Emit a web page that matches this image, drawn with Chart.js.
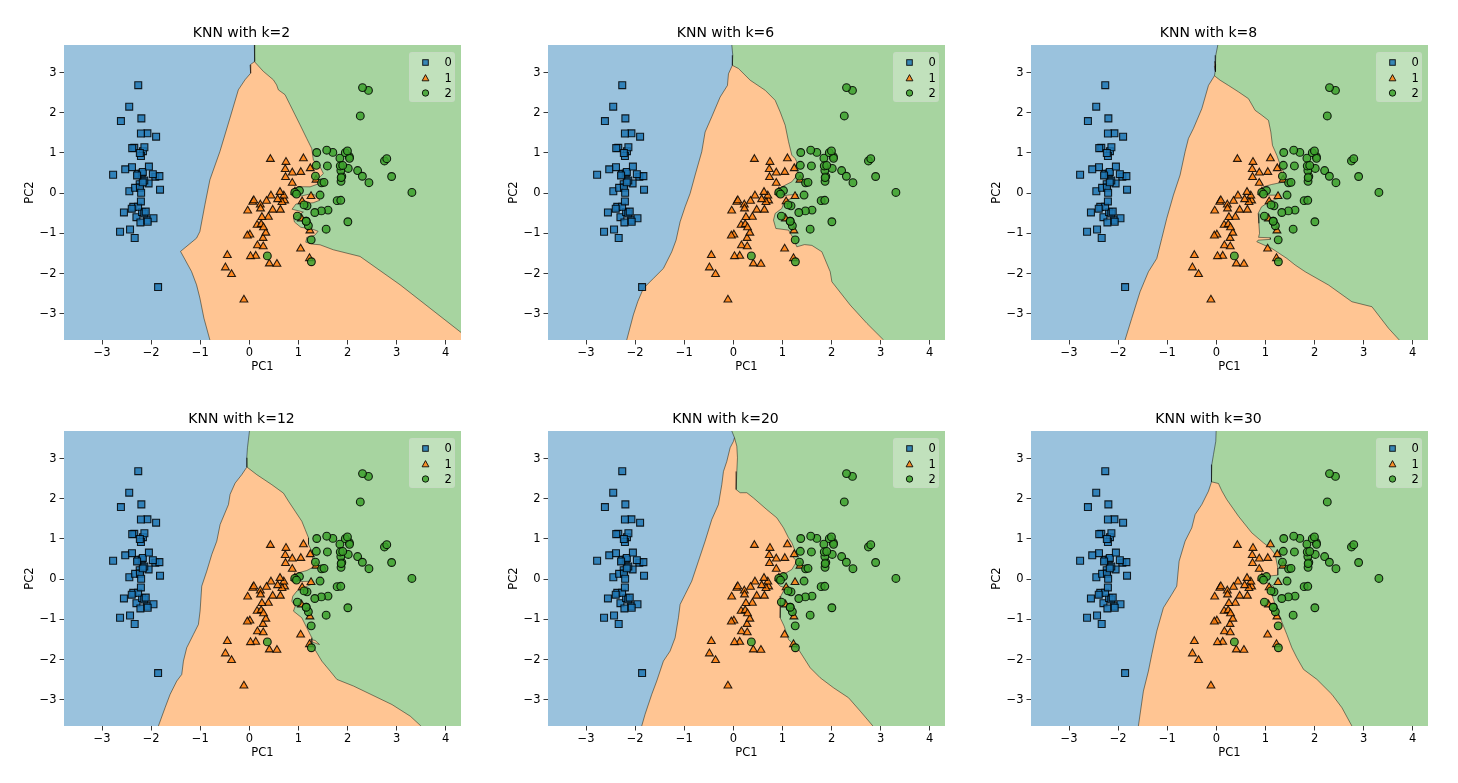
<!DOCTYPE html>
<html>
<head>
<meta charset="utf-8">
<script src="https://cdn.jsdelivr.net/npm/chart.js@4.4.1/dist/chart.umd.min.js"></script>
<style>
html,body{margin:0;padding:0;background:#fff;width:1458px;height:783px;overflow:hidden;font-family:'DejaVu Sans',sans-serif;}
.cw{position:absolute;}
.cw canvas{display:block;}
.legend{position:absolute;background:rgba(255,255,255,0.3);border:1px solid rgba(204,204,204,0.3);border-radius:3px;box-sizing:border-box;}
.legend svg{position:absolute;left:0;top:0;}
.legend span{position:absolute;font-size:11.5px;line-height:14px;color:#000;font-family:'DejaVu Sans',sans-serif;}
</style>
</head>
<body>
<script>
// ---------------- data ----------------
const kValues = [2, 6, 8, 12, 20, 30];
const classLabels = ['0', '1', '2'];
const xTicks = [-3, -2, -1, 0, 1, 2, 3, 4];
const xTickLabels = ['\u22123', '\u22122', '\u22121', '0', '1', '2', '3', '4'];
const yTicks = [-3, -2, -1, 0, 1, 2, 3];
const yTickLabels = ['\u22123', '\u22122', '\u22121', '0', '1', '2', '3'];
const xLimits = [-3.7743, 4.3107];
const yLimits = [-3.654, 3.686];

const setosaPC1 = [-2.2647,-2.0810,-2.3642,-2.2994,-2.3898,-2.0756,-2.4440,-2.2328,-2.3346,-2.1843,-2.1663,-2.3261,-2.2185,-2.6331,-2.1987,-2.2622,-2.2076,-2.1903,-1.8986,-2.3434,-1.9143,-2.2070,-2.7743,-1.8187,-2.2272,-1.9518,-2.0512,-2.1686,-2.1396,-2.2653,-2.1401,-1.8316,-2.6149,-2.4462,-2.1100,-2.2078,-2.0451,-2.5273,-2.4296,-2.1697,-2.2865,-1.8581,-2.5536,-1.9644,-2.1371,-2.0697,-2.3847,-2.3944,-2.2294,-2.2038];
const setosaPC2 = [0.4800,-0.6741,-0.3419,-0.5974,0.6468,1.4892,0.0476,0.2231,-1.1153,-0.4690,1.0437,0.1331,-0.7287,-0.9615,1.8601,2.6863,1.4836,0.4888,1.4050,1.1278,0.4089,0.9241,0.4583,0.0856,0.1373,-0.6256,0.2422,0.5271,0.3132,-0.3377,-0.5045,0.4237,1.7936,2.1507,-0.4602,-0.2061,0.6616,0.5923,-0.9042,0.2689,0.4417,-2.3374,-0.4791,0.4723,1.1422,-0.7111,1.1204,-0.3862,0.9980,0.0092];
const versicolorPC1 = [1.1018,0.7313,1.2410,0.4075,1.0755,0.3887,0.7465,-0.4873,0.9279,0.0114,-0.1102,0.4407,0.5621,0.7196,-0.0334,0.8754,0.3503,0.1588,1.2251,0.1649,0.7377,0.4763,1.2342,0.6329,0.7027,0.8743,1.2565,1.3584,0.6648,-0.0403,0.1308,0.0235,0.2415,1.0611,0.2240,0.4291,1.0487,1.0445,0.0696,0.2835,0.2791,0.6246,0.3365,-0.3622,0.2886,0.0914,0.2277,0.5764,-0.4477,0.2567];
const versicolorPC2 = [0.8630,0.5946,0.6163,-1.7544,-0.2084,-0.5933,0.7730,-1.8524,0.0322,-1.0340,-2.6541,-0.0633,-1.7647,-0.1862,-0.4390,0.5091,-0.1963,-0.7921,-1.6222,-1.3026,0.3966,-0.4173,-0.9333,-0.4164,-0.0634,0.2508,-0.0773,0.3313,-0.2259,-1.0587,-1.5623,-1.5725,-0.7773,-0.6338,-0.2878,0.8456,0.5221,-1.3830,-0.2195,-1.3293,-1.1200,0.0249,-0.9884,-2.0192,-0.8557,-0.1812,-0.3849,-0.1549,-1.5438,-0.5989];
const virginicaPC1 = [1.8446,1.1579,2.2053,1.4402,1.8678,2.7519,0.3670,2.3024,2.0067,2.2598,1.3642,1.6027,1.8839,1.2601,1.4676,1.5901,1.4714,2.4263,3.3107,1.2638,2.0377,0.9780,2.8977,1.3332,1.7007,1.9543,1.1751,1.0210,1.7883,1.8636,2.4360,2.3049,1.8627,1.1141,1.2025,2.7988,1.5763,1.3463,0.9248,1.8520,2.0148,1.9018,1.1579,2.0406,1.9981,1.8705,1.5646,1.5212,1.3728,0.9607];
const virginicaPC2 = [0.8704,-0.6989,0.5620,-0.0470,0.2950,0.8004,-1.5615,0.4201,-0.7114,1.9210,0.6928,-0.4217,0.4192,-1.1623,-0.4423,0.6762,0.2556,2.5567,0.0178,-1.7067,0.9105,-0.5718,0.4136,-0.4818,1.0139,1.0078,-0.3164,0.0643,-0.1874,0.5623,0.2593,2.6263,-0.1785,-0.2929,-0.8113,0.8568,1.0686,0.4224,0.0172,0.6761,0.6139,0.6896,-0.6989,0.8675,1.0492,0.3870,-0.8967,0.2691,1.0113,-0.0243];

// decision boundaries: class 0 | rest (top -> bottom), class 1 | class 2 (tip -> edge)
const edgeA_k2 = [[0.102,3.686],[0.115,3.55],[0.102,3.275],[0.014,3.19],[0.027,2.985],[-0.088,2.82],[-0.224,2.57],[-0.395,1.865],[-0.599,1.036],[-0.803,0.332],[-0.905,-0.29],[-1.007,-0.954],[-1.075,-1.12],[-1.401,-1.45],[-1.177,-1.95],[-1.075,-2.28],[-1.007,-2.61],[-0.925,-3.11],[-0.803,-3.654]];
const edgeB_k2 = [[0.102,3.275],[0.285,3.03],[0.489,2.82],[0.557,2.69],[0.591,2.57],[0.727,2.45],[0.829,2.20],[0.931,1.95],[1.033,1.70],[1.169,1.36],[1.271,1.11],[1.304,0.82],[1.44,0.655],[1.508,0.488],[1.406,0.364],[1.427,0.24],[1.237,0.157],[1.0,0.16],[0.88,0.10],[0.87,-0.01],[1.067,-0.07],[1.20,-0.03],[1.32,-0.04],[1.44,-0.174],[1.30,-0.24],[0.95,-0.27],[0.87,-0.40],[1.10,-0.47],[0.99,-0.55],[0.90,-0.62],[0.92,-0.72],[1.05,-0.85],[1.20,-0.88],[1.30,-0.90],[1.40,-0.95],[1.33,-1.05],[1.17,-1.10],[1.15,-1.22],[1.30,-1.27],[1.44,-1.285],[1.712,-1.41],[2.255,-1.575],[3.07,-2.28],[4.3107,-3.466]];

const edgeA_k6 = [[-0.031,3.686],[-0.011,3.43],[-0.02,3.18],[-0.099,2.97],[-0.12,2.68],[-0.269,2.39],[-0.439,1.90],[-0.575,1.52],[-0.643,1.03],[-0.778,0.45],[-0.88,-0.008],[-0.982,-0.34],[-1.084,-0.713],[-1.166,-1.169],[-1.254,-1.459],[-1.424,-1.873],[-1.628,-2.122],[-1.832,-2.37],[-1.947,-2.70],[-2.036,-3.03],[-2.171,-3.654]];
const edgeB_k6 = [[-0.02,3.18],[0.105,3.10],[0.343,2.81],[0.648,2.56],[0.852,2.31],[0.954,2.02],[1.056,1.69],[1.124,1.28],[1.191,0.945],[1.26,0.86],[1.293,0.78],[1.26,0.613],[1.327,0.49],[1.191,0.282],[0.988,0.157],[0.88,0.09],[0.87,-0.03],[0.98,-0.08],[1.10,-0.05],[1.30,-0.03],[1.30,-0.10],[1.08,-0.17],[1.021,-0.257],[0.988,-0.38],[0.852,-0.505],[0.818,-0.672],[0.866,-0.879],[1.123,-0.92],[1.225,-1.128],[1.293,-1.335],[1.45,-1.28],[1.60,-1.30],[1.803,-1.459],[1.973,-1.956],[2.007,-2.205],[2.38,-2.785],[2.72,-3.24],[3.06,-3.654]];

const edgeA_k8 = [[0.03,3.686],[-0.011,3.43],[-0.024,3.26],[-0.02,3.05],[-0.038,2.92],[-0.16,2.68],[-0.296,2.10],[-0.466,1.61],[-0.568,1.36],[-0.636,1.03],[-0.738,0.45],[-0.874,-0.05],[-1.01,-0.63],[-1.111,-1.127],[-1.213,-1.625],[-1.383,-1.956],[-1.553,-2.453],[-1.723,-3.116],[-1.859,-3.654]];
const edgeB_k8 = [[-0.038,2.92],[0.077,2.81],[0.247,2.68],[0.451,2.52],[0.655,2.35],[0.79,2.06],[0.926,1.94],[1.062,1.81],[1.11,1.52],[1.143,1.19],[1.233,0.94],[1.327,0.613],[1.395,0.488],[1.327,0.364],[1.395,0.282],[1.123,0.215],[0.953,0.157],[0.886,0.033],[1.056,-0.05],[1.28,-0.05],[1.30,-0.12],[1.19,-0.16],[1.056,-0.232],[0.92,-0.34],[0.852,-0.505],[0.866,-0.75],[0.88,-1.0],[0.86,-1.1],[1.1,-1.11],[1.1,-1.15],[0.85,-1.17],[0.824,-1.21],[1.13,-1.376],[1.233,-1.46],[1.437,-1.625],[1.607,-1.79],[1.81,-1.956],[2.286,-2.287],[2.761,-2.702],[3.169,-2.826],[3.509,-3.365],[3.726,-3.654]];
const islands_k8 = [[[-0.03,3.28],[-0.015,3.2],[-0.01,3.08],[-0.025,3.02],[-0.04,3.15]]];

const edgeA_k12 = [[0.003,3.686],[-0.038,3.27],[-0.052,3.02],[-0.05,2.79],[-0.154,2.60],[-0.289,2.39],[-0.392,2.11],[-0.425,1.856],[-0.595,1.359],[-0.663,0.945],[-0.765,0.613],[-0.867,0.199],[-0.969,-0.174],[-1.003,-0.796],[-1.037,-1.127],[-1.139,-1.376],[-1.275,-1.707],[-1.342,-2.039],[-1.376,-2.37],[-1.478,-2.536],[-1.614,-2.868],[-1.716,-3.199],[-1.852,-3.654]];
const edgeB_k12 = [[-0.05,2.79],[0.152,2.60],[0.458,2.35],[0.695,2.14],[0.797,1.94],[0.933,1.69],[1.069,1.44],[1.137,1.235],[1.205,1.028],[1.205,0.862],[1.307,0.613],[1.273,0.447],[1.341,0.323],[1.171,0.215],[1.001,0.157],[0.899,0.074],[0.933,-0.008],[1.069,-0.06],[1.27,-0.05],[1.29,-0.12],[1.171,-0.174],[0.967,-0.298],[0.886,-0.423],[0.865,-0.547],[0.933,-0.672],[0.899,-0.796],[1.069,-0.962],[1.171,-1.211],[1.273,-1.46],[1.273,-1.625],[1.477,-2.04],[1.647,-2.29],[1.783,-2.495],[2.122,-2.66],[2.904,-3.12],[3.278,-3.41],[3.495,-3.654]];
const islands_k12 = [[[1.239,-1.50],[1.34,-1.525],[1.429,-1.625],[1.375,-1.608],[1.273,-1.558]]];

const edgeA_k20 = [[-0.031,3.686],[0.023,3.52],[0.003,3.43],[-0.065,3.27],[-0.133,2.93],[-0.201,2.68],[-0.235,2.35],[-0.303,1.856],[-0.439,1.483],[-0.575,0.945],[-0.711,0.447],[-0.847,-0.05],[-0.982,-0.381],[-1.084,-0.63],[-1.118,-0.962],[-1.186,-1.459],[-1.288,-1.79],[-1.424,-2.039],[-1.56,-2.536],[-1.662,-2.868],[-1.798,-3.365],[-1.866,-3.654]];
const edgeB_k20 = [[0.023,3.52],[0.071,3.31],[0.084,3.02],[0.071,2.68],[0.057,2.23],[0.139,2.15],[0.275,2.15],[0.41,2.02],[0.682,1.73],[0.886,1.525],[1.022,1.276],[1.124,1.028],[1.192,0.904],[1.26,0.696],[1.226,0.53],[1.294,0.447],[1.192,0.24],[1.022,0.116],[0.886,0.074],[0.852,-0.05],[0.954,-0.174],[1.056,-0.215],[0.967,-0.422],[0.954,-0.713],[0.954,-0.962],[1.035,-1.169],[1.124,-1.5],[1.327,-1.749],[1.565,-2.205],[1.769,-2.454],[2.04,-2.703],[2.346,-2.951],[2.584,-3.283],[2.842,-3.654]];

const edgeA_k30 = [[-0.004,3.686],[-0.011,3.43],[-0.058,3.10],[-0.092,2.85],[-0.106,2.68],[-0.092,2.42],[-0.16,2.19],[-0.296,1.856],[-0.432,1.607],[-0.5,1.276],[-0.636,0.945],[-0.758,0.447],[-0.806,-0.174],[-0.908,-0.381],[-1.078,-0.713],[-1.213,-1.293],[-1.315,-1.873],[-1.383,-2.288],[-1.485,-2.785],[-1.587,-3.654]];
const edgeB_k30 = [[-0.092,2.42],[0.043,2.38],[0.111,2.20],[0.213,1.98],[0.451,1.566],[0.722,1.152],[0.96,0.903],[1.096,0.779],[1.198,0.613],[1.252,0.281],[1.252,0.10],[1.10,0.08],[0.90,0.03],[1.0,-0.07],[1.164,-0.174],[1.13,-0.381],[1.198,-0.63],[1.3,-0.962],[1.436,-1.376],[1.538,-1.707],[1.64,-1.956],[1.776,-2.246],[2.048,-2.494],[2.354,-2.867],[2.558,-3.199],[2.761,-3.654]];

// ---------------- styling / layout ----------------
const FONT = "'DejaVu Sans', sans-serif";
const regionColors = ['#9ac2dd', '#ffc593', '#a7d4a0'];
const markerFill = ['rgba(31,119,180,0.85)', 'rgba(255,127,14,0.85)', 'rgba(60,160,44,0.85)'];
const markerEdge = 'rgba(0,0,0,0.85)';
const COL_LEFT = [64, 548, 1031];
const ROW_TOP = [45, 431];
const PLOT_W = 397, PLOT_H = 295;
const Y_AXIS_W = 42, X_AXIS_H = 42, TITLE_H = 40, RIGHT_PAD = 14;

const panels = [
  {k: kValues[0], a: edgeA_k2, b: edgeB_k2, islands: []},
  {k: kValues[1], a: edgeA_k6, b: edgeB_k6, islands: []},
  {k: kValues[2], a: edgeA_k8, b: edgeB_k8, islands: islands_k8},
  {k: kValues[3], a: edgeA_k12, b: edgeB_k12, islands: islands_k12},
  {k: kValues[4], a: edgeA_k20, b: edgeB_k20, islands: []},
  {k: kValues[5], a: edgeA_k30, b: edgeB_k30, islands: []}
];

const classPoints = [
  setosaPC1.map((x, i) => ({x, y: setosaPC2[i]})),
  versicolorPC1.map((x, i) => ({x, y: versicolorPC2[i]})),
  virginicaPC1.map((x, i) => ({x, y: virginicaPC2[i]}))
];
const pointStyles = ['rect', 'triangle', 'circle'];
const pointRadii = [4.9, 4.5, 3.9];

const toXY = pairs => pairs.map(p => ({x: p[0], y: p[1]}));

function polygonDataset(pairs, color, order) {
  return {data: toXY(pairs), showLine: true, fill: 'shape', backgroundColor: color,
          borderWidth: 0, borderColor: 'rgba(0,0,0,0)', pointRadius: 0, order: order};
}
function lineDataset(pairs, order) {
  return {data: toXY(pairs), showLine: true, fill: false, borderColor: 'rgba(0,0,0,0.75)',
          borderWidth: 0.6, pointRadius: 0, order: order};
}

function addLegend(L, T) {
  const box = document.createElement('div');
  box.className = 'legend';
  const W = 46, H = 50;
  box.style.left = (L + PLOT_W - 6 - W) + 'px';
  box.style.top = (T + 7) + 'px';
  box.style.width = W + 'px';
  box.style.height = H + 'px';
  const rowsY = [9.5, 25, 40];
  const mx = 15.5;
  const ns = 'http://www.w3.org/2000/svg';
  const svg = document.createElementNS(ns, 'svg');
  svg.setAttribute('width', W); svg.setAttribute('height', H);
  const r = document.createElementNS(ns, 'rect');
  r.setAttribute('x', mx - 2.8); r.setAttribute('y', rowsY[0] - 2.8);
  r.setAttribute('width', 5.6); r.setAttribute('height', 5.6);
  r.setAttribute('fill', markerFill[0]); r.setAttribute('stroke', markerEdge); r.setAttribute('stroke-width', 1);
  svg.appendChild(r);
  const t = document.createElementNS(ns, 'polygon');
  t.setAttribute('points', `${mx},${rowsY[1]-3.4} ${mx-3.4},${rowsY[1]+2.8} ${mx+3.4},${rowsY[1]+2.8}`);
  t.setAttribute('fill', markerFill[1]); t.setAttribute('stroke', markerEdge); t.setAttribute('stroke-width', 1);
  svg.appendChild(t);
  const c = document.createElementNS(ns, 'circle');
  c.setAttribute('cx', mx); c.setAttribute('cy', rowsY[2]); c.setAttribute('r', 3.2);
  c.setAttribute('fill', markerFill[2]); c.setAttribute('stroke', markerEdge); c.setAttribute('stroke-width', 1);
  svg.appendChild(c);
  box.appendChild(svg);
  classLabels.forEach((lab, i) => {
    const s = document.createElement('span');
    s.textContent = lab;
    s.style.left = '34.5px';
    s.style.top = (rowsY[i] - 7.5) + 'px';
    box.appendChild(s);
  });
  document.body.appendChild(box);
}

panels.forEach((panel, idx) => {
  const col = idx % 3, row = Math.floor(idx / 3);
  const L = COL_LEFT[col], T = ROW_TOP[row];
  const wrap = document.createElement('div');
  wrap.className = 'cw';
  wrap.style.left = (L - Y_AXIS_W) + 'px';
  wrap.style.top = (T - TITLE_H) + 'px';
  wrap.style.width = (Y_AXIS_W + PLOT_W + RIGHT_PAD) + 'px';
  wrap.style.height = (TITLE_H + PLOT_H + X_AXIS_H) + 'px';
  const canvas = document.createElement('canvas');
  wrap.appendChild(canvas);
  document.body.appendChild(wrap);

  const [xMin, xMax] = xLimits, [yMin, yMax] = yLimits;
  const A = panel.a, B = panel.b;
  const tipIdx = A.findIndex(p => p[0] === B[0][0] && p[1] === B[0][1]);
  const greenRect = [[xMin, yMax], [xMax, yMax], [xMax, yMin], [xMin, yMin]];
  const bluePoly = [[xMin, yMax], ...A, [xMin, yMin]];
  const orangePoly = [...B];
  const bEnd = B[B.length - 1];
  if (bEnd[1] > yMin + 1e-6) orangePoly.push([xMax, yMin]);
  orangePoly.push(...A.slice(tipIdx).reverse());

  const datasets = [];
  [2, 1, 0].forEach((c, j) => {
    datasets.push({
      label: classLabels[c], data: classPoints[c], showLine: false,
      pointStyle: pointStyles[c], pointRadius: pointRadii[c],
      backgroundColor: markerFill[c], borderColor: markerEdge, borderWidth: 1.1,
      order: j * 0.1
    });
  });
  datasets.push(lineDataset(A, 1));
  datasets.push(lineDataset(B, 1));
  panel.islands.forEach(isl => {
    datasets.push(lineDataset([...isl, isl[0]], 1));
    datasets.push(polygonDataset(isl, regionColors[1], 2));
  });
  datasets.push(polygonDataset(orangePoly, regionColors[1], 3));
  datasets.push(polygonDataset(bluePoly, regionColors[0], 4));
  datasets.push(polygonDataset(greenRect, regionColors[2], 5));

  new Chart(canvas, {
    type: 'scatter',
    data: {datasets},
    options: {
      responsive: true, maintainAspectRatio: false, animation: false, events: [],
      layout: {padding: {left: 0, right: RIGHT_PAD, top: 0, bottom: 0}},
      plugins: {
        legend: {display: false}, tooltip: {enabled: false},
        title: {display: true, text: 'KNN with k=' + panel.k, color: '#000',
                font: {family: FONT, size: 14, weight: 'normal', lineHeight: 1.2},
                padding: {top: 20.1, bottom: 3.1}}
      },
      scales: {
        x: {
          type: 'linear', min: xMin, max: xMax,
          afterBuildTicks: s => { s.ticks = xTicks.map(v => ({value: v})); },
          afterFit: s => { s.height = X_AXIS_H; },
          ticks: {autoSkip: false, maxRotation: 0, padding: 2, color: '#000',
                  font: {family: FONT, size: 11.5},
                  callback: v => xTickLabels[xTicks.indexOf(v)]},
          grid: {display: true, drawOnChartArea: false, drawTicks: true, tickLength: 4.5, color: '#222', lineWidth: 0.9},
          border: {display: false},
          title: {display: true, text: 'PC1', color: '#000', font: {family: FONT, size: 11.5, lineHeight: 1.2},
                  padding: {top: 0, bottom: 8}}
        },
        y: {
          type: 'linear', min: yMin, max: yMax,
          afterBuildTicks: s => { s.ticks = yTicks.map(v => ({value: v})); },
          afterFit: s => { s.width = Y_AXIS_W; },
          ticks: {autoSkip: false, padding: 3, color: '#000',
                  font: {family: FONT, size: 11.5},
                  callback: v => yTickLabels[yTicks.indexOf(v)]},
          grid: {display: true, drawOnChartArea: false, drawTicks: true, tickLength: 4.5, color: '#222', lineWidth: 0.9},
          border: {display: false},
          title: {display: true, text: 'PC2', color: '#000', font: {family: FONT, size: 11.5, lineHeight: 1.2},
                  padding: {top: 0.8, bottom: 0}}
        }
      }
    }
  });
  addLegend(L, T);
});
</script>
</body>
</html>
